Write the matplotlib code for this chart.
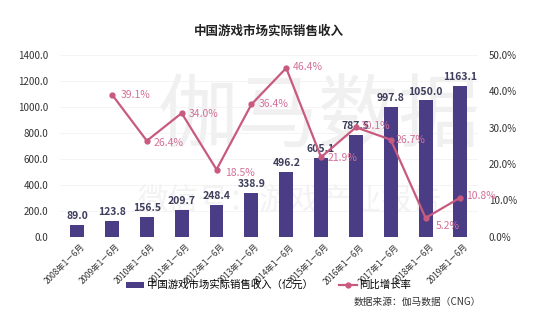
import matplotlib
matplotlib.use("Agg")
import matplotlib.pyplot as plt
import numpy as np

plt.rcParams['font.family'] = ['Noto Sans CJK SC', 'DejaVu Sans']

years = [f"{y}年1－6月" for y in range(2008, 2020)]
revenue = [89.0, 123.8, 156.5, 209.7, 248.4, 338.9, 496.2, 605.1, 787.5, 997.8, 1050.0, 1163.1]
growth = [None, 39.1, 26.4, 34.0, 18.5, 36.4, 46.4, 21.9, 30.1, 26.7, 5.2, 10.8]

bar_color = "#4a3d85"
line_color = "#c95a7f"
label_pink = "#d4719a"

fig = plt.figure(figsize=(5.48, 3.35), dpi=100)
ax = fig.add_axes([0.109, 0.293, 0.763, 0.543])
x = np.arange(len(years))

# faint watermark behind everything
ax.text(0.62, 0.66, "伽马数据", transform=ax.transAxes, fontsize=58, color="#f0f0f0",
        ha="center", va="center", zorder=0)
ax.text(0.55, 0.2, "微信号：游戏产业报告", transform=ax.transAxes, fontsize=22, color="#f3f3f3",
        ha="center", va="center", zorder=0)

bars = ax.bar(x, revenue, width=0.4, color=bar_color, zorder=2,
              label="中国游戏市场实际销售收入（亿元）")
ax.set_ylim(0, 1400)
ax.set_xlim(-0.5, len(years) - 0.5)
ax.set_yticks(np.arange(0, 1401, 200))
ax.set_yticklabels([f"{v:.1f}" for v in np.arange(0, 1401, 200)], fontsize=7, color="#333333")
ax.set_xticks(x + 0.1)
ax.set_xticklabels(years, rotation=45, ha="right", rotation_mode="anchor", fontsize=6, color="#333333")
ax.grid(axis="y", color="#f2f2f2", lw=0.6, zorder=1)
for s in ax.spines.values():
    s.set_visible(False)
ax.tick_params(axis="y", length=0, pad=8)
ax.tick_params(axis="x", length=0, pad=4)

for xi, v in zip(x, revenue):
    ax.text(xi, v + 30, f"{v:.1f}", ha="center", va="bottom", fontsize=7.5,
            fontweight="bold", color="#3d3d5c", zorder=5)

ax2 = ax.twinx()
gx = [xi for xi, g in zip(x, growth) if g is not None]
gy = [g for g in growth if g is not None]
ax2.plot(gx, gy, color=line_color, lw=1.6, marker="o", ms=3.5, zorder=4,
         label="同比增长率")
ax2.set_ylim(0, 50)
ax2.set_yticks(np.arange(0, 51, 10))
ax2.set_yticklabels([f"{v:.1f}%" for v in np.arange(0, 51, 10)], fontsize=7, color="#333333")
for s in ax2.spines.values():
    s.set_visible(False)
ax2.tick_params(length=0, pad=8)

offsets = {39.1: (0.25, 0, "left", "center"),
           26.4: (0.2, -0.6, "left", "center"),
           34.0: (0.2, -0.3, "left", "center"),
           18.5: (0.25, -1.0, "left", "center"),
           36.4: (0.2, 0, "left", "center"),
           46.4: (0.2, 0.4, "left", "center"),
           21.9: (0.2, -0.3, "left", "center"),
           30.1: (0.15, 0.5, "left", "center"),
           26.7: (0.15, 0, "left", "center"),
           5.2: (0.3, -0.8, "left", "top"),
           10.8: (0.15, 0.5, "left", "center")}
for xi, g in zip(gx, gy):
    dx, dy, ha, va = offsets[g]
    ax2.text(xi + dx, g + dy, f"{g:.1f}%", ha=ha, va=va, fontsize=7.5,
             color=label_pink, zorder=6)

fig.text(0.49, 0.895, "中国游戏市场实际销售收入", fontsize=9, fontweight="bold", ha="center", color="#222222")

h1, l1 = ax.get_legend_handles_labels()
h2, l2 = ax2.get_legend_handles_labels()
fig.legend(h1 + h2, l1 + l2, loc="center", bbox_to_anchor=(0.49, 0.149), ncol=2, frameon=False,
           fontsize=7.5, handlelength=1.8, handleheight=0.5, columnspacing=2.5, handletextpad=0.2)
fig.text(0.645, 0.098, "数据来源：伽马数据（CNG）", fontsize=7, color="#333333", ha="left", va="center")

fig.savefig("out.png", dpi=100)
